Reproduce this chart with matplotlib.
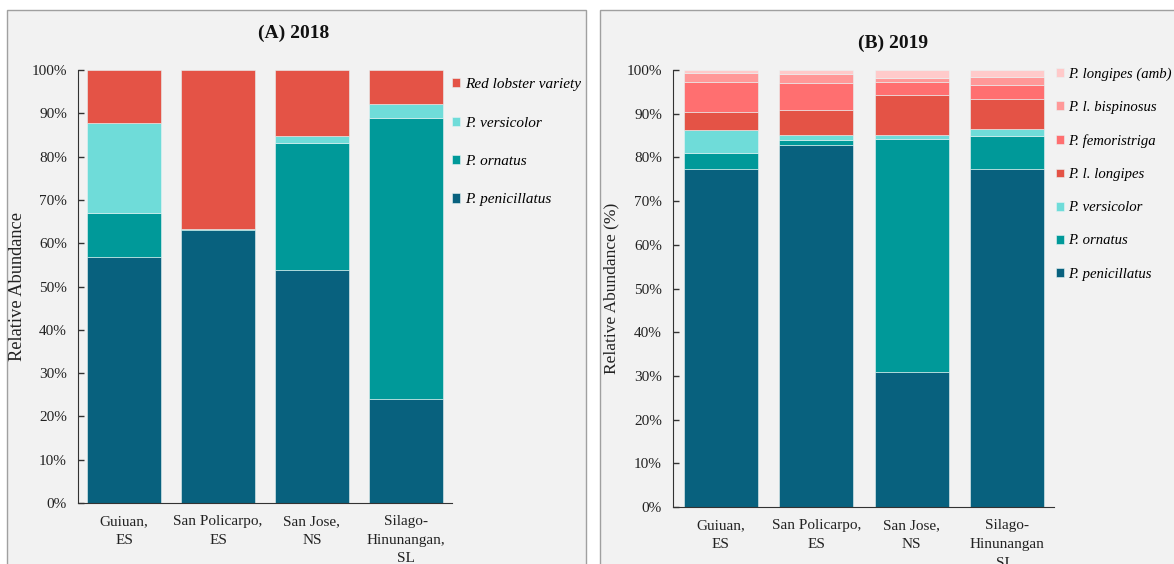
import matplotlib
matplotlib.use("Agg")
import matplotlib.pyplot as plt
from matplotlib.patches import Rectangle
import numpy as np

plt.rcParams['font.family'] = ['Liberation Serif', 'DejaVu Serif']

# ---------------- data ----------------
sites_a = ["Guiuan,\nES", "San Policarpo,\nES", "San Jose,\nNS", "Silago-\nHinunangan,\nSL"]
sites_b = ["Guiuan,\nES", "San Policarpo,\nES", "San Jose,\nNS", "Silago-\nHinunangan\nSL,"]

# 2018 (percent)
a_penicillatus = [56.8, 63.0, 53.8, 24.0]
a_ornatus      = [10.2, 0.2, 29.4, 64.9]
a_versicolor   = [20.7, 0.0, 1.5, 3.2]
a_red          = [12.3, 36.8, 15.3, 7.9]

# 2019 (percent)
b_penicillatus  = [77.3, 82.8, 31.0, 77.3]
b_ornatus       = [3.8, 1.2, 53.2, 7.6]
b_versicolor    = [5.2, 1.1, 0.9, 1.5]
b_l_longipes    = [4.1, 5.7, 9.1, 7.0]
b_femoristriga  = [6.9, 6.3, 3.1, 3.2]
b_bispinosus    = [2.0, 2.0, 0.9, 1.9]
b_longipes_amb  = [0.7, 0.9, 1.8, 1.5]

labels_a = ["P. penicillatus", "P. ornatus", "P. versicolor", "Red lobster variety"]
labels_b = ["P. penicillatus", "P. ornatus", "P. versicolor", "P. l. longipes",
            "P. femoristriga", "P. l. bispinosus", "P. longipes (amb)"]

colors_a = ["#08617e", "#009999", "#6fdcd9", "#e45346"]
colors_b = ["#08617e", "#009999", "#6fdcd9", "#e45346", "#ff6f70", "#ff9898", "#ffcaca"]

W, H = 1174, 564
fig = plt.figure(figsize=(W / 100, H / 100), dpi=100)
fig.patch.set_facecolor("white")

def px(x0, y0, x1, y1):
    return [x0 / W, 1 - y1 / H, (x1 - x0) / W, (y1 - y0) / H]

# panel backgrounds
bg = "#f2f2f2"
fig.patches.append(Rectangle((7 / W, -0.1), (586 - 7) / W, 1 - 10 / H + 0.1,
                             transform=fig.transFigure, facecolor=bg,
                             edgecolor="#a0a0a0", linewidth=1.0, zorder=-10))
fig.patches.append(Rectangle((600 / W, -0.1), (1180 - 600) / W, 1 - 10 / H + 0.1,
                             transform=fig.transFigure, facecolor=bg,
                             edgecolor="#a0a0a0", linewidth=1.0, zorder=-10))

def draw(ax, sites, series, labels, colors, width, xlim, legend_kw, legend_size):
    x = np.arange(len(sites))
    bottom = np.zeros(len(sites))
    handles = []
    for vals, lab, col in zip(series, labels, colors):
        v = np.array(vals, dtype=float)
        h = ax.bar(x, v, width, bottom=bottom, color=col, label=lab,
                   edgecolor="#e8f4f4", linewidth=0.4)
        handles.append(h)
        bottom += v
    ax.set_xlim(*xlim)
    ax.set_ylim(0, 100)
    ax.set_yticks(np.arange(0, 101, 10))
    ax.set_yticklabels([f"{t}%" for t in range(0, 101, 10)], fontsize=11, color="#222222")
    ax.set_xticks(x)
    ax.set_xticklabels(sites, fontsize=11, color="#222222", linespacing=1.55)
    ax.tick_params(axis="x", length=0, pad=9)
    ax.tick_params(axis="y", direction="in", length=4, width=1, pad=8, color="#333333")
    ax.set_facecolor("none")
    for s in ["top", "right"]:
        ax.spines[s].set_visible(False)
    ax.spines["left"].set_color("#333333")
    ax.spines["bottom"].set_color("#333333")
    leg = ax.legend(handles[::-1], labels[::-1], frameon=False,
                    prop={"style": "italic", "size": legend_size},
                    handlelength=0.55, handleheight=0.55, handletextpad=0.3,
                    borderaxespad=0, borderpad=0, **legend_kw)
    return leg

ax1 = fig.add_axes(px(78, 70, 452, 503))
draw(ax1, sites_a, [a_penicillatus, a_ornatus, a_versicolor, a_red],
     labels_a, colors_a, 0.78, (-0.49, 3.49),
     dict(loc="upper left", bbox_to_anchor=(1.0, 0.981), labelspacing=1.66), 11)
ax1.set_ylabel("Relative Abundance", fontsize=13.2, color="#222222")
ax1.yaxis.set_label_coords(-0.139, 0.5)
fig.text(294 / W, 1 - 33 / H, "(A) 2018", ha="center", va="center",
         fontsize=14, fontweight="bold", color="#111111")

ax2 = fig.add_axes(px(673, 70, 1054, 507))
draw(ax2, sites_b, [b_penicillatus, b_ornatus, b_versicolor, b_l_longipes,
                    b_femoristriga, b_bispinosus, b_longipes_amb],
     labels_b, colors_b, 0.775, (-0.50, 3.49),
     dict(loc="upper left", bbox_to_anchor=(1.004, 1.006), labelspacing=1.37), 10.6)
ax2.set_ylabel("Relative Abundance (%)", fontsize=12.5, color="#222222")
ax2.yaxis.set_label_coords(-0.142, 0.5)
fig.text(893 / W, 1 - 43 / H, "(B) 2019", ha="center", va="center",
         fontsize=14, fontweight="bold", color="#111111")

fig.savefig("out.png", dpi=100, facecolor="white")
